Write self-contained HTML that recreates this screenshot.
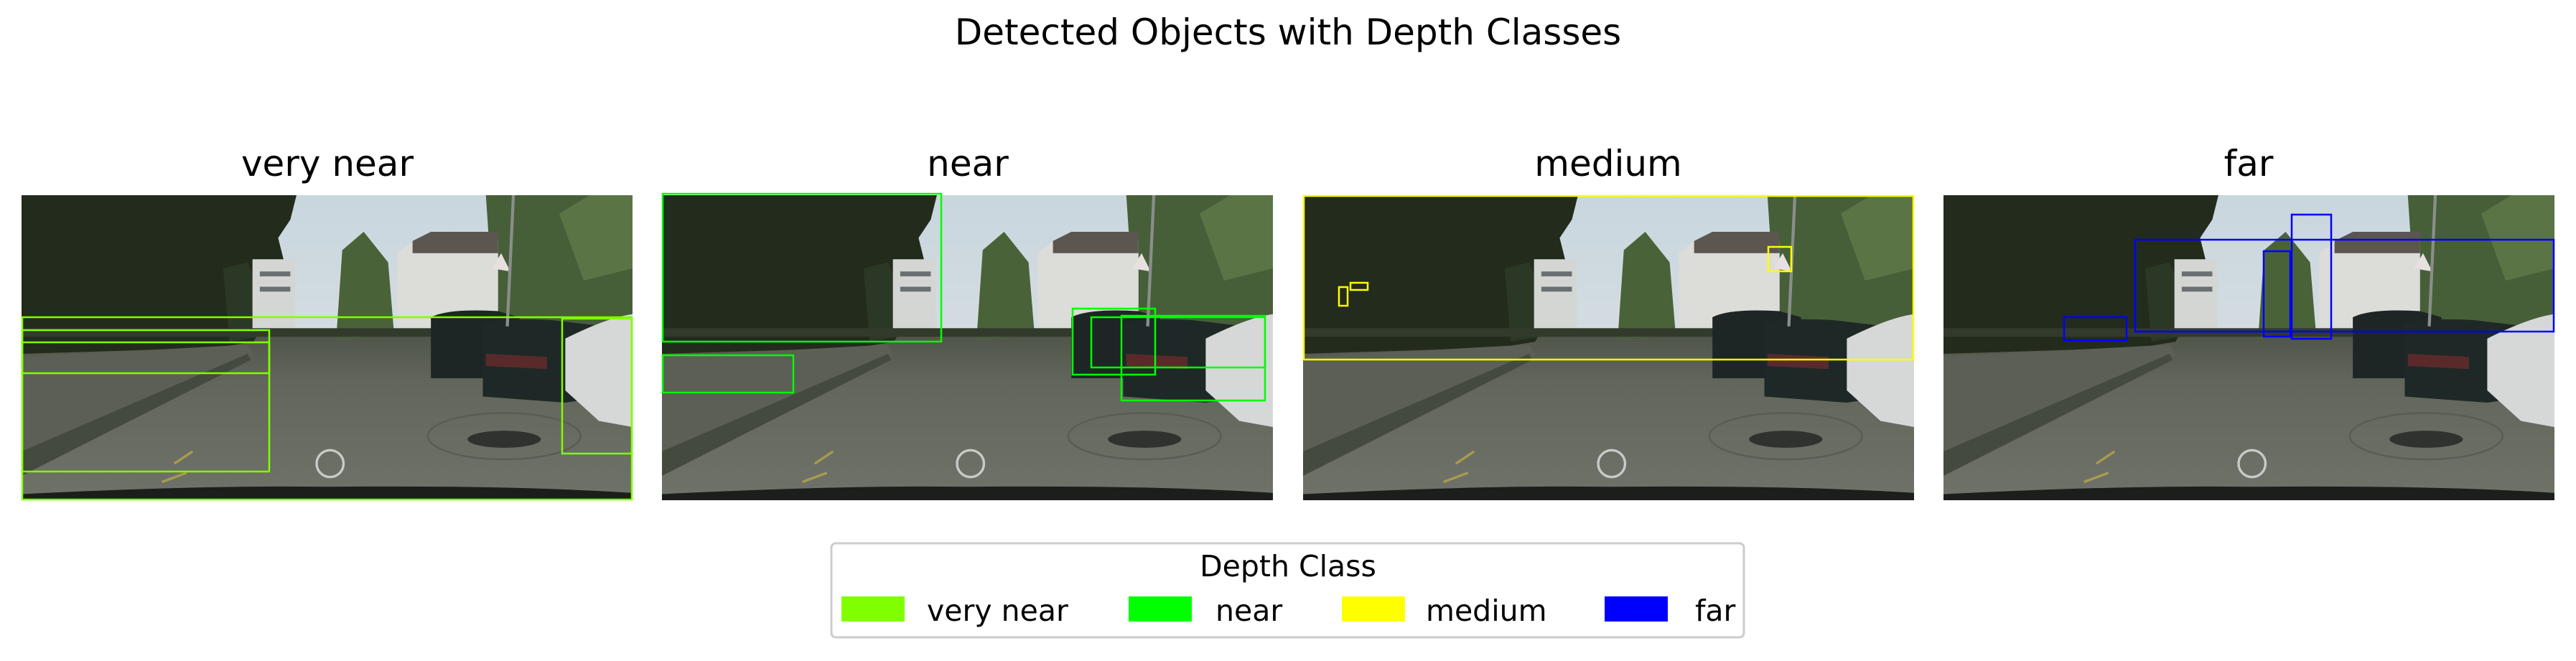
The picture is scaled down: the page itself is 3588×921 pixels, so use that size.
<!DOCTYPE html>
<html><head><meta charset="utf-8"><style>
html,body{margin:0;padding:0;background:#fff;}
svg{display:block;}
text{font-family:"DejaVu Sans","Liberation Sans",sans-serif;fill:#000;}
</style></head><body>
<svg width="3588" height="921" viewBox="0 0 3588 921" xmlns="http://www.w3.org/2000/svg">
<defs>
<linearGradient id="sky" x1="0" y1="0" x2="0" y2="1"><stop offset="0" stop-color="#c9d6de"/><stop offset="1" stop-color="#dfe4e4"/></linearGradient>
<linearGradient id="road" x1="0" y1="0" x2="0" y2="1"><stop offset="0" stop-color="#4f5448"/><stop offset="0.3" stop-color="#62665b"/><stop offset="1" stop-color="#6f7268"/></linearGradient>
<symbol id="scene" viewBox="0 0 1000 500" preserveAspectRatio="none">
<rect width="1000" height="500" fill="url(#sky)"/>
<rect x="0" y="225" width="1000" height="275" fill="url(#road)"/>
<path d="M0 0 H450 L440 40 L420 70 L430 110 L410 150 L400 200 L380 240 L320 250 L0 260 Z" fill="#222b1c"/>
<path d="M330 120 L370 110 L390 160 L400 230 L340 240 Z" fill="#2c3826"/>
<path d="M760 0 H1000 V230 H760 L770 150 Z" fill="#465f38"/>
<path d="M880 30 L930 0 H1000 V120 L920 140 Z" fill="#5a7446"/>
<path d="M525 90 L560 60 L600 110 L610 230 L515 235 Z" fill="#4a6238"/>
<rect x="378" y="105" width="70" height="120" fill="#d4d6d4"/>
<rect x="390" y="125" width="50" height="8" fill="#6a6f72"/>
<rect x="390" y="150" width="50" height="8" fill="#6a6f72"/>
<path d="M615 95 L640 75 H780 V215 H615 Z" fill="#dcdcd8"/>
<path d="M640 75 L670 60 H780 V95 H640 Z" fill="#5c5650"/>
<path d="M770 120 L785 95 L800 125 Z" fill="#e8e0e0"/>
<rect x="0" y="218" width="1000" height="14" fill="#323a2c"/>
<path d="M0 265 L370 245 L380 262 L0 440 Z" fill="#5b5f55"/>
<path d="M0 420 L370 260 L375 270 L0 460 Z" fill="#444a3e"/>
<path d="M670 200 Q700 185 780 190 L815 200 L820 290 L780 300 L670 300 Z" fill="#1d2624"/>
<path d="M755 210 Q790 200 870 205 L955 215 L960 330 L890 340 L755 330 Z" fill="#1e2927"/>
<path d="M760 260 L860 265 L860 285 L760 280 Z" fill="#5a2a2a"/>
<path d="M890 235 Q960 200 1000 195 V380 L945 370 L890 320 Z" fill="#d6d8d8"/>
<ellipse cx="790" cy="400" rx="60" ry="14" fill="#303230"/>
<ellipse cx="790" cy="395" rx="125" ry="38" fill="none" stroke="#5a5d55" stroke-width="3"/>
<circle cx="505" cy="440" r="22" fill="none" stroke="#c8cac8" stroke-width="4"/>
<path d="M0 500 L0 490 Q300 475 500 478 Q800 475 1000 488 V500 Z" fill="#1c1e1c"/>
<path d="M250 440 L280 420 M230 470 L270 455" stroke="#a89a50" stroke-width="4"/>
<line x1="805" y1="0" x2="795" y2="215" stroke="#8a8e8a" stroke-width="5"/>
</symbol>
</defs>

<text x="1794" y="62" font-size="50" text-anchor="middle">Detected Objects with Depth Classes</text>

<text x="456" y="245" font-size="50" text-anchor="middle">very near</text>
<text x="1348" y="245" font-size="50" text-anchor="middle">near</text>
<text x="2240" y="245" font-size="50" text-anchor="middle">medium</text>
<text x="3132" y="245" font-size="50" text-anchor="middle">far</text>

<g transform="translate(30,272)">
<use href="#scene" width="851" height="425"/>
<g fill="none" stroke="#7fff00" stroke-width="2.5">
<rect x="1" y="170" width="849" height="254"/>
<rect x="1" y="188" width="344" height="60"/>
<rect x="1" y="205" width="344" height="180"/>
<rect x="753" y="172" width="97" height="188"/>
</g>
</g>
<g transform="translate(922,272)">
<use href="#scene" width="851" height="425"/>
<g fill="none" stroke="#00ff00" stroke-width="2.5">
<rect x="1" y="-2" width="388" height="206"/>
<rect x="1" y="223" width="182" height="52"/>
<rect x="572" y="158" width="115" height="92"/>
<rect x="640" y="168" width="200" height="118"/>
<rect x="598" y="170" width="242" height="70"/>
</g>
</g>
<g transform="translate(1815,272)">
<use href="#scene" width="851" height="425"/>
<g fill="none" stroke="#ffff00" stroke-width="2.5">
<rect x="1" y="1" width="849" height="228"/>
<rect x="50" y="128" width="12" height="26"/>
<rect x="66" y="122" width="24" height="10"/>
<rect x="648" y="72" width="32" height="34"/>
</g>
</g>
<g transform="translate(2707,272)">
<use href="#scene" width="851" height="425"/>
<g fill="none" stroke="#0000ff" stroke-width="2.5">
<rect x="267" y="62" width="583" height="128"/>
<rect x="446" y="78" width="37" height="119"/>
<rect x="485" y="27" width="55" height="173"/>
<rect x="168" y="170" width="87" height="32"/>
</g>
</g>

<rect x="1158" y="757" width="1271" height="131" rx="6" fill="#fff" stroke="#cccccc" stroke-width="3"/>
<text x="1794" y="803" font-size="41" text-anchor="middle">Depth Class</text>
<rect x="1172" y="831" width="88" height="35" fill="#7fff00"/>
<text x="1291" y="865" font-size="41">very near</text>
<rect x="1572" y="831" width="88" height="35" fill="#00ff00"/>
<text x="1693" y="865" font-size="41">near</text>
<rect x="1869" y="831" width="88" height="35" fill="#ffff00"/>
<text x="1986" y="865" font-size="41">medium</text>
<rect x="2235" y="831" width="88" height="35" fill="#0000ff"/>
<text x="2361" y="865" font-size="41">far</text>
</svg>
</body></html>
